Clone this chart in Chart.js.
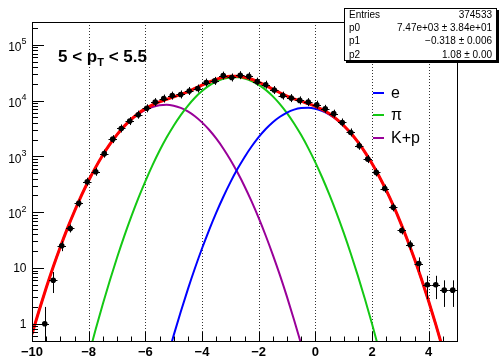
<!DOCTYPE html>
<html>
<head>
<meta charset="utf-8">
<script src="https://cdn.jsdelivr.net/npm/chart.js@4.4.1/dist/chart.umd.min.js"></script>
<style>
  html, body { margin: 0; padding: 0; background: #ffffff; }
  canvas { display: block; }
</style>
</head>
<body>
<canvas id="c" width="499" height="358"></canvas>
<script>
// ---- data -------------------------------------------------------------
// x positions (nσ) at which the fit components are tabulated
const xGrid = [
  -10, -9.75, -9.5, -9.25, -9, -8.75, -8.5, -8.25, -8, -7.75, -7.5, -7.25,
  -7, -6.75, -6.5, -6.25, -6, -5.75, -5.5, -5.25, -5, -4.75, -4.5, -4.25,
  -4, -3.75, -3.5, -3.25, -3, -2.75, -2.5, -2.25, -2, -1.75, -1.5, -1.25,
  -1, -0.75, -0.5, -0.25, 0, 0.25, 0.5, 0.75, 1, 1.25, 1.5, 1.75,
  2, 2.25, 2.5, 2.75, 3, 3.25, 3.5, 3.75, 4, 4.25, 4.5, 4.75, 5
];

// electron component
const electron = [
  null, null, null, null, null, null, null, null, null, null, null, null,
  null, null, null, null, null, null, 0.075, 0.221, 0.618, 1.64, 4.13, 9.86,
  22.3, 47.9, 97.3, 187, 342, 592, 968, 1507, 2218, 3097, 4102, 5140,
  6109, 6887, 7362, 7447, 7145, 6501, 5598, 4581, 3548, 2600, 1811, 1194,
  746, 442, 248, 132, 66.5, 31.8, 14.4, 6.19, 2.52, 0.973, 0.356, 0.123, null
];

// pion component
const pion = [
  null, null, null, null, null, null, null, 0.087, 0.27, 0.805, 2.26, 6.03,
  15.2, 36.4, 82.2, 177, 358, 690, 1259, 2173, 3556, 5508, 8091, 11270,
  14830, 18530, 21930, 24550, 26060, 26180, 24950, 22490, 19230, 15600, 11940, 8690,
  5984, 3899, 2410, 1409, 782, 410, 204, 96.4, 43.0, 18.2, 7.29, 2.77,
  0.995, 0.339, 0.109, null, null, null, null, null, null, null, null, null, null
];

// kaon + proton component
const kaonProton = [
  0.649, 1.73, 4.37, 10.5, 23.8, 51.2, 104, 202, 370, 641, 1057, 1648,
  2438, 3420, 4539, 5715, 6823, 7709, 8279, 8404, 8091, 7396, 6397, 5248,
  4074, 3006, 2099, 1387, 871, 518, 292, 156, 78.9, 37.8, 17.2, 7.43,
  3.03, 1.17, 0.432, 0.150, null, null, null, null, null, null, null, null,
  null, null, null, null, null, null, null, null, null, null, null, null, null
];

// total fit
const totalFit = [
  0.649, 1.73, 4.37, 10.5, 23.8, 51.2, 104, 202, 370, 642, 1059, 1654,
  2453, 3456, 4621, 5892, 7181, 8399, 9538, 10577, 11648, 12906, 14492, 16528,
  18926, 21584, 24126, 26124, 27273, 27290, 26210, 24153, 21527, 18735, 16059, 13837,
  12096, 10787, 9772, 8856, 7927, 6911, 5802, 4677, 3591, 2618, 1818, 1197,
  747, 442, 248, 132, 66.5, 31.8, 14.4, 6.19, 2.52, 0.973, 0.356, 0.123, null
];

// measured histogram: bin centres and counts
const binCenters = [
  -9.85, -9.55, -9.25, -8.95, -8.65, -8.35, -8.05, -7.75, -7.45, -7.15,
  -6.85, -6.55, -6.25, -5.95, -5.65, -5.35, -5.05, -4.75, -4.45, -4.15,
  -3.85, -3.55, -3.25, -2.95, -2.65, -2.35, -2.05, -1.75, -1.45, -1.15,
  -0.85, -0.55, -0.25, 0.05, 0.35, 0.65, 0.95, 1.25, 1.55, 1.85,
  2.15, 2.45, 2.75, 3.05, 3.35, 3.65, 3.95, 4.25, 4.55, 4.85
];
const binHalfWidth = 0.15;
const counts = [
  null, 1, 6, 25, 51, 144, 351, 530, 1120, 2040,
  3170, 4300, 5600, 7300, 9400, 10900, 12300, 12900, 14900, 16500,
  21100, 22600, 28100, 26000, 28600, 27400, 21900, 19300, 15500, 12300,
  11100, 10100, 9400, 8450, 7130, 5840, 4060, 2690, 1550, 895,
  517, 265, 122, 47, 26, 12, 5, 5, 4, 4
];

// axis ticks
const xTickValues = [-10, -8, -6, -4, -2, 0, 2, 4];
const yTickExponents = [0, 1, 2, 3, 4, 5];

// legend and fit summary
const seriesNames = ['e', 'π', 'K+p'];
const statsLabels = ['Entries', 'p0', 'p1', 'p2'];
const statsValues = ['374533', '7.47e+03 ± 3.84e+01', '\u22120.318 ± 0.006', '1.08 ± 0.00'];

// ---- styles -----------------------------------------------------------
const COLORS = { e: '#0000ff', pi: '#14c814', kp: '#990099', fit: '#ff0000' };
const FONT = '"Liberation Sans", Arial, Helvetica, sans-serif';

const toXY = (ys) => xGrid.map((x, i) => ({ x, y: ys[i] }));

function curve(data, color, width) {
  return {
    type: 'line',
    data: toXY(data),
    borderColor: color,
    borderWidth: width,
    pointRadius: 0,
    fill: false,
    spanGaps: false,
    cubicInterpolationMode: 'monotone',
    clip: 0
  };
}

// Poisson error bars for the histogram (drawn just before its markers)
const errorBars = {
  id: 'errorBars',
  beforeDatasetDraw(chart, args) {
    if (args.index !== 0) return;
    const { ctx, chartArea: a, scales: { x, y } } = chart;
    ctx.save();
    ctx.strokeStyle = '#000';
    ctx.lineWidth = 1;
    counts.forEach((n, i) => {
      if (n == null) return;
      const err = Math.sqrt(n);
      const px = Math.round(x.getPixelForValue(binCenters[i])) + 0.5;
      const py = y.getPixelForValue(n);
      const yHi = Math.max(a.top, Math.min(py - 4, y.getPixelForValue(n + err)));
      const yLo = n - err > 0 ? Math.min(a.bottom, Math.max(py + 4, y.getPixelForValue(n - err))) : a.bottom;
      ctx.beginPath();
      ctx.moveTo(px, yHi); ctx.lineTo(px, yLo);
      ctx.moveTo(x.getPixelForValue(binCenters[i] - binHalfWidth), Math.round(py) + 0.5);
      ctx.lineTo(x.getPixelForValue(binCenters[i] + binHalfWidth), Math.round(py) + 0.5);
      ctx.stroke();
    });
    ctx.restore();
  }
};

// frame, grid, ticks, labels, title, legend and stats box
const decorations = {
  id: 'decorations',
  beforeDatasetsDraw(chart) {
    const { ctx, chartArea: a, scales: { x } } = chart;
    ctx.save();
    ctx.strokeStyle = '#333';
    ctx.lineWidth = 1;
    ctx.setLineDash([1, 2]);
    xTickValues.forEach(v => {
      if (v <= x.min || v >= x.max) return;
      const px = Math.round(x.getPixelForValue(v)) + 0.5;
      ctx.beginPath(); ctx.moveTo(px, a.top); ctx.lineTo(px, a.bottom); ctx.stroke();
    });
    ctx.restore();
  },
  afterDraw(chart) {
    const { ctx, chartArea: a, scales: { x, y } } = chart;
    ctx.save();

    // frame
    ctx.strokeStyle = '#000';
    ctx.lineWidth = 1;
    ctx.strokeRect(Math.round(a.left) + 0.5, Math.round(a.top) + 0.5,
                   Math.round(a.right - a.left), Math.round(a.bottom - a.top));

    // x ticks: major every 2, minor every 0.5
    ctx.beginPath();
    for (let v = x.min; v <= x.max + 1e-9; v += 0.5) {
      const px = Math.round(x.getPixelForValue(v)) + 0.5;
      const major = Math.abs(v / 2 - Math.round(v / 2)) < 1e-9;
      ctx.moveTo(px, a.bottom); ctx.lineTo(px, a.bottom - (major ? 9 : 4.5));
    }
    // y ticks: decades and 2..9 subdivisions
    for (let e = -1; e <= 5; e++) {
      for (let m = 1; m <= 9; m++) {
        const v = m * Math.pow(10, e);
        if (v < y.min || v > y.max) continue;
        const py = Math.round(y.getPixelForValue(v)) + 0.5;
        ctx.moveTo(a.left, py); ctx.lineTo(a.left + (m === 1 ? 12 : 6), py);
      }
    }
    ctx.stroke();

    // x tick labels
    ctx.fillStyle = '#000';
    ctx.font = 'bold 13px ' + FONT;
    ctx.textAlign = 'center';
    ctx.textBaseline = 'alphabetic';
    xTickValues.forEach(v => {
      const txt = v < 0 ? '\u2212' + Math.abs(v) : String(v);
      ctx.fillText(txt, x.getPixelForValue(v), 356);
    });

    // y tick labels
    yTickExponents.forEach(ex => {
      const py = y.getPixelForValue(Math.pow(10, ex));
      const right = 26.5;
      ctx.textAlign = 'right';
      if (ex === 0 || ex === 1) {
        ctx.font = '12px ' + FONT;
        ctx.textBaseline = 'middle';
        ctx.fillText(ex === 0 ? '1' : '10', right, py + 1);
      } else {
        ctx.font = '9px ' + FONT;
        ctx.textBaseline = 'alphabetic';
        ctx.fillText(String(ex), right, py - 0.5);
        const supW = ctx.measureText(String(ex)).width;
        ctx.font = '12px ' + FONT;
        ctx.textBaseline = 'middle';
        ctx.fillText('10', right - supW, py + 3);
      }
    });

    // title: 5 < pT < 5.5
    ctx.textAlign = 'left';
    ctx.textBaseline = 'alphabetic';
    let tx = 58;
    const ty = 62;
    ctx.font = 'bold 17px ' + FONT;
    ctx.fillText('5 < p', tx, ty);
    tx += ctx.measureText('5 < p').width;
    ctx.font = 'bold 11px ' + FONT;
    ctx.fillText('T', tx, ty + 4);
    tx += ctx.measureText('T').width;
    ctx.font = 'bold 17px ' + FONT;
    ctx.fillText(' < 5.5', tx, ty);

    // legend
    const legendColors = [COLORS.e, COLORS.pi, COLORS.kp];
    const legendY = [93, 115, 138];
    ctx.font = '16px ' + FONT;
    ctx.textBaseline = 'middle';
    seriesNames.forEach((name, i) => {
      ctx.strokeStyle = legendColors[i];
      ctx.lineWidth = 2;
      ctx.beginPath();
      ctx.moveTo(373, legendY[i]); ctx.lineTo(384, legendY[i]);
      ctx.stroke();
      ctx.fillStyle = '#000';
      ctx.fillText(name, 391, legendY[i] + 1);
    });

    // stats box
    const bx = 344, by = 8, bw = 153, bh = 53;
    ctx.fillStyle = '#000';
    ctx.fillRect(bx + 2, by + bh, bw, 2);
    ctx.fillRect(bx + bw, by + 2, 2, bh);
    ctx.fillStyle = '#fff';
    ctx.fillRect(bx, by, bw, bh);
    ctx.strokeStyle = '#000';
    ctx.lineWidth = 1;
    ctx.strokeRect(bx + 0.5, by + 0.5, bw - 1, bh - 1);
    ctx.fillStyle = '#000';
    ctx.font = '10px ' + FONT;
    ctx.textBaseline = 'middle';
    const rowH = bh / statsLabels.length;
    statsLabels.forEach((lab, i) => {
      const ry = by + rowH * (i + 0.5) + 0.5;
      ctx.textAlign = 'left';
      ctx.fillText(lab, bx + 5, ry);
      ctx.textAlign = 'right';
      ctx.fillText(statsValues[i], bx + bw - 5, ry);
    });

    ctx.restore();
  }
};

new Chart(document.getElementById('c'), {
  data: {
    datasets: [
      {
        type: 'scatter',
        data: binCenters.map((x, i) => ({ x, y: counts[i] })),
        pointStyle: 'circle',
        pointRadius: 2.8,
        pointBackgroundColor: '#000',
        pointBorderColor: '#000',
        pointBorderWidth: 0,
        showLine: false
      },
      curve(totalFit, COLORS.fit, 3),
      curve(electron, COLORS.e, 2),
      curve(pion, COLORS.pi, 2),
      curve(kaonProton, COLORS.kp, 2)
    ]
  },
  options: {
    responsive: false,
    animation: false,
    devicePixelRatio: 1,
    layout: { padding: { left: 32, right: 42, top: 22, bottom: 17 } },
    plugins: { legend: { display: false }, tooltip: { enabled: false } },
    events: [],
    scales: {
      x: { type: 'linear', min: -10, max: 5, display: false },
      y: { type: 'logarithmic', min: 0.49, max: 2.57e5, display: false }
    }
  },
  plugins: [decorations, errorBars]
});
</script>
</body>
</html>
